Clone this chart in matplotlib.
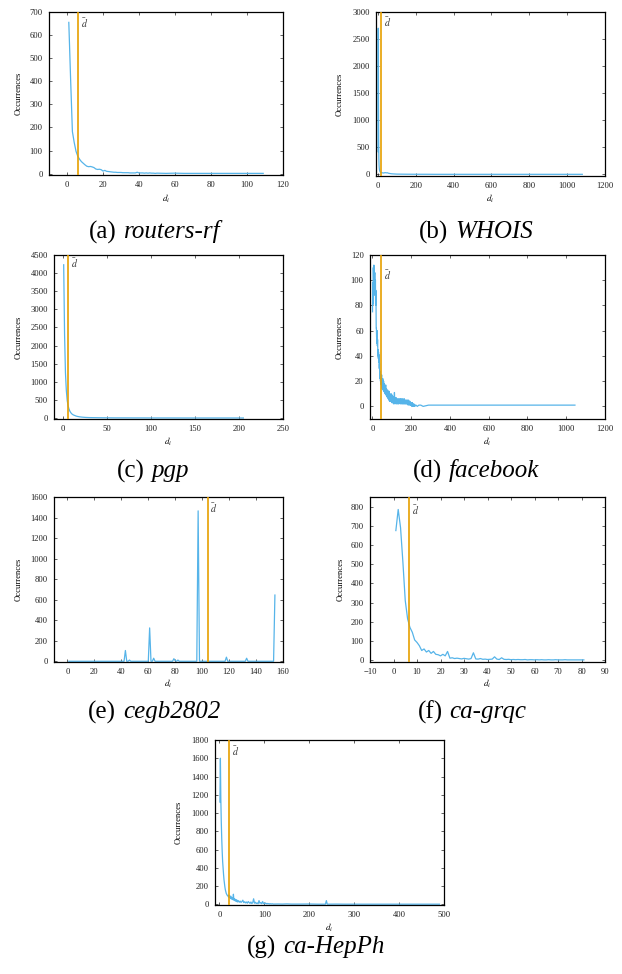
"""Degree distributions of the seven test graphs, one panel per graph."""

import matplotlib.pyplot as plt
from matplotlib.offsetbox import AnnotationBbox, HPacker, TextArea

plt.rcParams["font.family"] = ["Liberation Serif", "DejaVu Serif"]
plt.rcParams["mathtext.fontset"] = "stix"

W, H = 622, 974
BLUE = "#56B4E9"
ORANGE = "#E69F00"

# degree -> number of nodes, plus the mean degree of each graph
routers_x = list(range(1, 51)) + [55, 60, 65, 70, 75, 80, 85, 90, 95, 100, 105, 109]
routers_y = [655, 410, 182, 135, 97, 75, 62, 52, 45, 38,
             32, 30, 31, 29, 26, 20, 18, 19, 17, 11,
             14, 10, 9, 8, 7, 6, 6, 5, 5, 5,
             4, 4, 4, 4, 3, 3, 3, 3, 6, 3,
             3, 3, 2, 3, 2, 3, 2, 2, 1, 2] + [1, 2, 1, 1, 1, 1, 1, 1, 1, 1, 1, 1]
routers_dbar = 6.3

whois_x = [1, 2, 3, 4, 5, 6, 7, 8, 10, 12, 15, 20, 25, 30, 35, 40, 45, 50, 55, 60,
           70, 80, 90, 100, 120, 150, 200, 250, 300, 400, 500, 600, 700, 800, 900,
           1000, 1080]
whois_y = [420, 2700, 1300, 600, 300, 180, 120, 90, 60, 45, 38, 30, 28, 25, 30, 32,
           28, 30, 22, 18, 12, 9, 7, 5, 4, 3, 2, 2, 1, 1, 1, 1, 1, 1, 1, 1, 1]
whois_dbar = 18

pgp_x = list(range(1, 31)) + [32, 35, 38, 40, 45, 50, 55, 60, 70, 80, 90, 100,
                              120, 140, 160, 180, 200, 205]
pgp_y = [4230, 2300, 1250, 760, 480, 340, 250, 190, 150, 120,
         100, 85, 75, 65, 55, 48, 42, 38, 33, 30,
         27, 24, 22, 20, 18, 16, 15, 14, 13, 12] + [11, 10, 9, 8, 7, 6, 5, 4, 4, 3,
                                                    3, 2, 2, 1, 1, 1, 1, 1]
pgp_dbar = 5.7

facebook_x = list(range(1, 221)) + [225, 232, 240, 250, 262, 290, 350, 550, 760, 795, 1045]
facebook_y = [75, 98, 93, 81, 110, 102, 88, 112, 97, 105,
              90, 104, 106, 96, 88, 100, 80, 92, 85, 62,
              62, 55, 58, 50, 60, 48, 53, 44, 40, 45,
              38, 43, 35, 41, 36, 30, 34, 25, 28, 22,
              26, 20, 24, 18, 22, 17, 21, 25, 16, 20,
              14, 19, 17, 22, 13, 18, 15, 20, 12, 16,
              14, 18, 11, 16, 13, 10, 15, 12, 17, 9,
              13, 10, 14, 8, 12, 9, 11, 7, 13, 8,
              10, 6, 11, 8, 5, 12, 7, 9, 4, 10,
              6, 8, 5, 9, 4, 7, 10, 5, 8, 3,
              7, 5, 9, 4, 6, 3, 8, 5, 2, 7,
              4, 6, 3, 11, 5, 2, 7, 4, 6, 3,
              5, 7, 2, 6, 4, 3, 5, 2, 6, 4,
              3, 5, 2, 4, 6, 3, 2, 5, 3, 4,
              6, 4, 3, 5, 2, 6, 4, 3, 5, 2,
              4, 6, 3, 5, 2, 4, 3, 6, 2, 4,
              3, 5, 2, 4, 6, 3, 2, 5, 3, 4,
              2, 5, 3, 4, 2, 3, 5, 2, 4, 3,
              5, 2, 3, 4, 1, 3, 5, 2, 3, 4,
              2, 3, 1, 4, 2, 3, 1, 2, 3, 1,
              2, 1, 2, 0, 1, 3, 1, 0, 2, 1,
              1, 0, 1, 2, 0, 1, 0, 1, 0, 1] + [1, 0, 1, 1, 0, 1, 1, 1, 1, 1, 1]
facebook_dbar = 44

cegb_x = [1, 41, 42, 43, 44, 45, 46, 47, 60, 61, 62, 63, 64, 65, 78, 79, 80, 81, 82, 83,
          96, 97, 98, 117, 118, 119, 132, 133, 134, 153, 154]
cegb_y = [0, 0, 0, 105, 0, 0, 12, 0, 0, 325, 0, 0, 30, 0, 0, 25, 5, 0, 12, 0,
          0, 1465, 0, 0, 40, 0, 0, 30, 0, 0, 645]
cegb_dbar = 104

grqc_x = list(range(1, 82))
grqc_y = [675, 785, 690, 510, 310, 215, 170, 145, 105, 92,
          75, 50, 58, 42, 50, 35, 45, 30, 28, 22,
          30, 22, 45, 10, 12, 8, 10, 8, 6, 9,
          7, 5, 8, 38, 6, 5, 8, 4, 5, 3,
          4, 5, 17, 5, 3, 12, 4, 3, 4, 2,
          3, 2, 3, 2, 2, 3, 1, 2, 2, 1,
          2, 1, 2, 1, 1, 2, 1, 1, 2, 1,
          1, 1, 2, 1, 1, 1, 1, 1, 1, 1, 1]
grqc_dbar = 6.7

hepph_x = (list(range(1, 41)) + list(range(42, 121, 2))
           + [130, 140, 150, 160, 180, 200, 220, 236, 238, 240, 260, 280, 300, 330,
              360, 400, 450, 490])
hepph_y = [1120, 1600, 1150, 900, 720, 580, 470, 400, 330, 270,
           230, 190, 160, 140, 120, 110, 100, 95, 90, 80,
           100, 75, 85, 70, 90, 60, 75, 55, 65, 50,
           110, 45, 60, 40, 55, 35, 50, 30, 45, 25] + [
           40, 22, 35, 20, 30, 45, 18, 28, 15, 25,
           12, 30, 20, 10, 25, 8, 18, 60, 12, 22,
           8, 15, 5, 40, 12, 18, 6, 30, 10, 5,
           15, 4, 10, 3, 8, 2, 6, 3, 5, 2] + [
           3, 2, 4, 2, 2, 3, 1, 1, 40, 1, 2, 1, 1, 1, 1, 1, 1, 1]
hepph_dbar = 21.5

fig = plt.figure(figsize=(W / 100, H / 100), dpi=100)


def px(x, y):
    return x / W, 1 - y / H


def panel(box, x, y, dbar, xlim, xticks, ylim, yticks, dbar_frac, ylab_x, xlab_y):
    left, top, right, bottom = box
    ax = fig.add_axes([left / W, 1 - bottom / H, (right - left) / W, (bottom - top) / H])
    ax.plot(x, y, color=BLUE, lw=0.9, zorder=2)
    ax.axvline(dbar, color=ORANGE, lw=1.2, zorder=3)
    ax.annotate(r"$\bar{d}$", xy=(dbar, dbar_frac), xycoords=("data", "axes fraction"),
                xytext=(4.5, 0), textcoords="offset points",
                ha="center", va="center", fontsize=7, color="#333333")
    ax.set_xlim(*xlim)
    ax.set_ylim(*ylim)
    ax.set_xticks(xticks)
    ax.set_yticks(yticks)
    ax.tick_params(direction="in", top=True, right=True, length=2.2, width=0.5,
                   labelsize=6.2, pad=4.5, colors="#222222")
    for s in ax.spines.values():
        s.set_linewidth(0.9)
    fig.text(*px(ylab_x, (top + bottom) / 2), "Occurrences", rotation=90,
             ha="center", va="center", fontsize=6.2)
    fig.text(*px((left + right) / 2, xlab_y), r"$d_i$", ha="center", va="center",
             fontsize=6.5)
    return ax


def caption(tag, name, cx, cy):
    row = HPacker(children=[TextArea(tag, textprops=dict(fontsize=18)),
                            TextArea(name, textprops=dict(fontsize=18, style="italic"))],
                  sep=5, align="baseline", pad=0)
    fig.add_artist(AnnotationBbox(row, px(cx, cy), xycoords="figure fraction",
                                  box_alignment=(0.5, 0.5), frameon=False, pad=0))


panel((49, 12, 283, 175), routers_x, routers_y, routers_dbar,
      (-10, 120), range(0, 121, 20), (-6, 700), range(0, 701, 100), 0.934, 19, 199)
caption("(a)", "routers-rf", 155, 232)

panel((376, 12, 605, 176), whois_x, whois_y, whois_dbar,
      (-10, 1200), range(0, 1201, 200), (-30, 3000), range(0, 3001, 500), 0.94, 340, 199)
caption("(b)", "WHOIS", 476, 232)

panel((54, 255, 283, 419), pgp_x, pgp_y, pgp_dbar,
      (-10, 250), range(0, 251, 50), (-27, 4500), range(0, 4501, 500), 0.95, 19, 442)
caption("(c)", "pgp", 153, 471)

panel((370, 255, 605, 419), facebook_x, facebook_y, facebook_dbar,
      (-12, 1200), range(0, 1201, 200), (-10, 120), range(0, 121, 20), 0.88, 340, 442)
caption("(d)", "facebook", 476, 471)

panel((54, 497, 283, 662), cegb_x, cegb_y, cegb_dbar,
      (-10, 160), range(0, 161, 20), (-7, 1600), range(0, 1601, 200), 0.93, 19, 684)
caption("(e)", "cegb2802", 154, 712)

panel((370, 497, 605, 662), grqc_x, grqc_y, grqc_dbar,
      (-10, 90), range(-10, 91, 10), (-10, 850), range(0, 801, 100), 0.92, 341, 684)
caption("(f)", "ca-grqc", 472, 712)

panel((215, 740, 444, 905), hepph_x, hepph_y, hepph_dbar,
      (-10, 500), range(0, 501, 100), (-8, 1800), range(0, 1801, 200), 0.93, 179, 928)
caption("(g)", "ca-HepPh", 316, 947)

fig.savefig("out.png", dpi=100)
